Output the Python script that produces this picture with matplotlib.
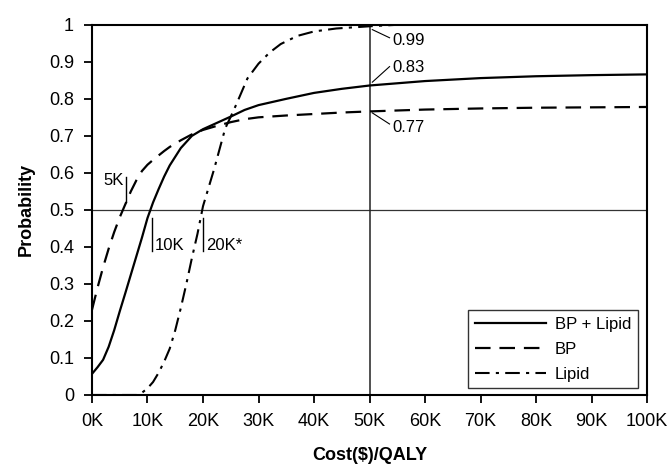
import matplotlib
matplotlib.use("Agg")
import matplotlib.pyplot as plt

plt.rcParams['font.family'] = ['Liberation Sans', 'DejaVu Sans']

# cost in thousands of dollars per QALY
cost_k = [0, 1, 2, 3, 4, 5, 6, 7, 8, 9, 10, 11, 12, 13, 14, 16, 18, 20, 22.5, 25, 27.5, 30, 35, 40, 45, 50,
          60, 70, 80, 90, 100]
bp_lipid = [0.057, 0.075, 0.095, 0.13, 0.175, 0.226, 0.275, 0.325, 0.375, 0.425, 0.478, 0.52, 0.556, 0.59, 0.62,
            0.667, 0.70, 0.718, 0.735, 0.752, 0.77, 0.783, 0.80, 0.816, 0.827, 0.836,
            0.848, 0.856, 0.861, 0.864, 0.866]
bp = [0.23, 0.29, 0.345, 0.395, 0.44, 0.48, 0.515, 0.55, 0.58, 0.605, 0.622, 0.635, 0.647, 0.659, 0.67,
      0.688, 0.704, 0.716, 0.727, 0.737, 0.745, 0.75, 0.755, 0.759, 0.763, 0.766,
      0.771, 0.774, 0.776, 0.777, 0.778]

lipid_cost_k = [0, 8, 9, 10, 11, 12, 13, 14, 15, 16, 17, 18, 19, 20, 21, 22, 23, 24, 25, 26, 27, 28, 30, 32, 34,
                37, 40, 44, 50, 55, 100]
lipid = [0, 0, 0.006, 0.018, 0.035, 0.06, 0.09, 0.125, 0.175, 0.235, 0.30, 0.37, 0.435, 0.51, 0.56, 0.61, 0.665,
         0.72, 0.752, 0.785, 0.82, 0.855, 0.895, 0.925, 0.948, 0.97, 0.982, 0.99, 0.996, 1.0, 1.0]

x_ticks = [0, 10, 20, 30, 40, 50, 60, 70, 80, 90, 100]
x_labels = [f"{v}K" for v in x_ticks]
y_ticks = [0, 0.1, 0.2, 0.3, 0.4, 0.5, 0.6, 0.7, 0.8, 0.9, 1.0]
y_labels = ["0", "0.1", "0.2", "0.3", "0.4", "0.5", "0.6", "0.7", "0.8", "0.9", "1"]

fig = plt.figure(figsize=(6.68, 4.74), dpi=100)
ax = fig.add_axes([0.1377, 0.1667, 0.831, 0.781])

# reference lines
ax.axhline(0.5, color='#333333', lw=0.9, zorder=1)
ax.axvline(50, color='#222222', lw=1.1, zorder=1)

ax.plot(cost_k, bp_lipid, color='black', lw=1.6, label='BP + Lipid')
ax.plot(cost_k, bp, color='black', lw=1.6, dashes=(7, 4), label='BP')
ax.plot(lipid_cost_k, lipid, color='black', lw=1.5, dashes=(7, 3, 1.5, 3), label='Lipid')

# threshold markers at p = 0.5
ax.plot([6.1, 6.1], [0.52, 0.59], color='black', lw=1)
ax.text(5.7, 0.58, "5K", ha='right', va='center', fontsize=12)
ax.plot([10.75, 10.75], [0.39, 0.478], color='black', lw=1)
ax.text(11.3, 0.405, "10K", ha='left', va='center', fontsize=12)
ax.plot([20.0, 20.0], [0.39, 0.478], color='black', lw=1)
ax.text(20.6, 0.405, "20K*", ha='left', va='center', fontsize=12)

# values at 50K
ax.plot([50.5, 53.6], [0.987, 0.965], color='black', lw=0.8)
ax.text(54.1, 0.958, "0.99", ha='left', va='center', fontsize=12)
ax.plot([50.5, 53.6], [0.845, 0.887], color='black', lw=0.8)
ax.text(54.1, 0.885, "0.83", ha='left', va='center', fontsize=12)
ax.plot([50.5, 53.6], [0.762, 0.732], color='black', lw=0.8)
ax.text(54.1, 0.723, "0.77", ha='left', va='center', fontsize=12)

ax.set_xlim(0, 100)
ax.set_ylim(0, 1)
ax.set_xticks(x_ticks)
ax.set_xticklabels(x_labels)
ax.set_yticks(y_ticks)
ax.set_yticklabels(y_labels)
ax.tick_params(direction='out', length=6, width=1.3, labelsize=13, pad=7)
for s in ax.spines.values():
    s.set_linewidth(1.5)
    s.set_color('black')

ax.set_xlabel("Cost($)/QALY", fontsize=13, fontweight='bold', labelpad=12)
ax.set_ylabel("Probability", fontsize=13, fontweight='bold', labelpad=10)

leg = ax.legend(loc='lower right', bbox_to_anchor=(0.983, 0.018), borderaxespad=0, fontsize=12,
                frameon=True, fancybox=False, edgecolor='black', handlelength=4.3, handletextpad=0.5,
                labelspacing=0.6)
leg.get_frame().set_linewidth(1.0)

fig.savefig("out.png", dpi=100)
